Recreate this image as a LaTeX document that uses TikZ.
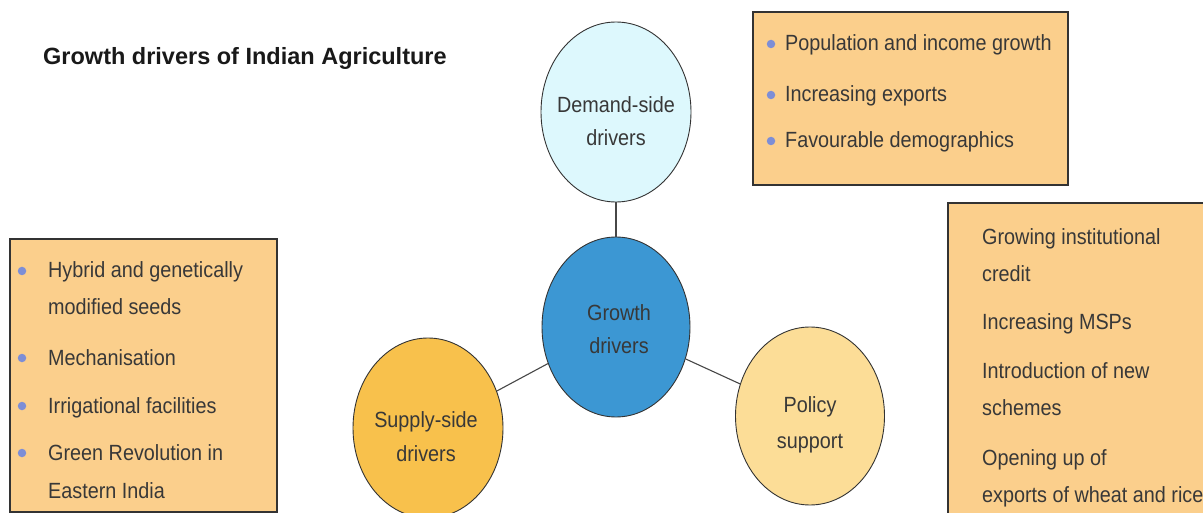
\documentclass[tikz,border=0pt]{standalone}
\usepackage{fontspec}
\setmainfont{Liberation Sans}
\newfontfamily\bodyfont{Liberation Sans}[FakeStretch=0.9]
\usetikzlibrary{shapes.geometric}
\definecolor{boxfill}{HTML}{FBCF8C}
\definecolor{demandfill}{HTML}{DDF8FD}
\definecolor{growthfill}{HTML}{3C97D3}
\definecolor{supplyfill}{HTML}{F8C14C}
\definecolor{policyfill}{HTML}{FCDD97}
\definecolor{bulletcol}{HTML}{7D8ED6}
\definecolor{txt}{HTML}{383838}
\definecolor{edge}{HTML}{333333}
\tikzset{
  infobox/.style={draw=edge, line width=1.2pt, fill=boxfill, rectangle, inner sep=0pt},
  bubble/.style={draw=edge, line width=0.9pt, ellipse, inner sep=0pt},
  item/.style={anchor=base west, inner sep=0pt, text=txt, font=\bodyfont\fontsize{22}{26}\selectfont},
  blabel/.style={anchor=base, inner sep=0pt, text=txt, font=\bodyfont\fontsize{22}{26}\selectfont},
  dot/.style={circle, fill=bulletcol, minimum size=8.5pt, inner sep=0pt},
  link/.style={draw=edge!90, line width=1.1pt}
}
\begin{document}
\begin{tikzpicture}[x=1pt, y=-1pt]
\useasboundingbox (0,0) rectangle (1203,513);
\fill[white] (0,0) rectangle (1203,513);
\clip (0,0) rectangle (1203,513);

% title
\node[anchor=base west, inner sep=0pt, text=black!90, font=\bfseries\fontsize{23.5}{28}\selectfont] (title) at (43,65) {Growth drivers of Indian Agriculture};

% boxes
\node[infobox, minimum width=267pt, minimum height=273pt] (Lbox) at (143.5,375.5) {};
\node[infobox, minimum width=315pt, minimum height=173pt] (Tbox) at (910.5,98.5) {};
\node[infobox, minimum width=280pt, minimum height=330pt] (Rbox) at (1088,368) {};

% ellipses
\node[bubble, fill=demandfill, minimum width=150pt, minimum height=180pt] (D) at (616,112) {};
\node[bubble, fill=growthfill, minimum width=148pt, minimum height=180pt] (G) at (616,327) {};
\node[bubble, fill=supplyfill, minimum width=150pt, minimum height=180pt] (S) at (428,428) {};
\node[bubble, fill=policyfill, minimum width=149pt, minimum height=178pt] (P) at (810,416) {};

% connectors
\draw[link] (D) -- (G);
\draw[link] (S) -- (G);
\draw[link] (G) -- (P);

% ellipse labels
\node[blabel] (D1) at (616,113) {Demand-side};
\node[blabel] (D2) at (616,146) {drivers};
\node[blabel] (G1) at (619,320) {Growth};
\node[blabel] (G2) at (619,353) {drivers};
\node[blabel] (S1) at (426,427) {Supply-side};
\node[blabel] (S2) at (426,461) {drivers};
\node[blabel] (P1) at (810,412) {Policy};
\node[blabel] (P2) at (810,448) {support};

% top box items
\node[dot] (tb1) at (771,44) {};
\node[item] (t1) at (785,51) {Population and income growth};
\node[dot] (tb2) at (771,95) {};
\node[item] (t2) at (785,102) {Increasing exports};
\node[dot] (tb3) at (771,141) {};
\node[item] (t3) at (785,148) {Favourable demographics};

% left box items
\node[dot] (lb1) at (22,271) {};
\node[item] (l1) at (48,278) {Hybrid and genetically};
\node[item] (l1b) at (48,315) {modified seeds};
\node[dot] (lb2) at (22,358) {};
\node[item] (l2) at (48,365) {Mechanisation};
\node[dot] (lb3) at (22,406) {};
\node[item] (l3) at (48,413) {Irrigational facilities};
\node[dot] (lb4) at (22,453) {};
\node[item] (l4) at (48,460) {Green Revolution in};
\node[item] (l4b) at (48,498) {Eastern India};

% right box items
\node[item] (r1) at (982,245) {Growing institutional};
\node[item] (r1b) at (982,282) {credit};
\node[item] (r2) at (982,330) {Increasing MSPs};
\node[item] (r3) at (982,378) {Introduction of new};
\node[item] (r3b) at (982,415) {schemes};
\node[item] (r4) at (982,465) {Opening up of};
\node[item] (r4b) at (982,502) {exports of wheat and rice};
\end{tikzpicture}
\end{document}
